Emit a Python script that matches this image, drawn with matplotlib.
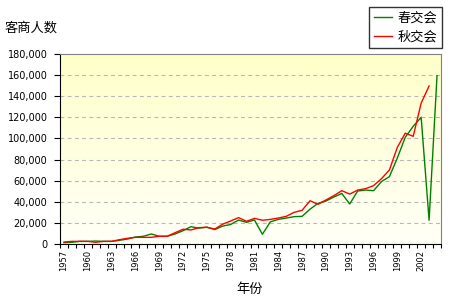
import numpy as np
import matplotlib
matplotlib.use("Agg")
from matplotlib import pyplot as plt
from matplotlib.ticker import FuncFormatter

plt.rcParams['font.family'] = ['Noto Sans CJK SC', 'DejaVu Sans']

years = list(range(1957, 2005))

# spring fair (green)
spring = [1200, 1600, 2500, 2500, 2800, 2500, 2500, 3500, 4700, 6600,
          7300, 9500, 7300, 7300, 9500, 12600, 16400, 15000, 16000, 13600,
          17000, 18500, 22700, 20500, 22800, 9200, 21000, 23300, 24600, 25900,
          26200, 33000, 38500, 40700, 44500, 47900, 37900, 50200, 51100, 50500,
          59100, 63800, 81500, 101100, 111500, 120000, 22500, 159500]

# autumn fair (red), no 2004 value
autumn = [1900, 2500, 2500, 2500, 1600, 2500, 2500, 4100, 5400, 6300,
          6300, 6300, 7300, 7300, 10700, 14000, 13300, 15500, 15800, 14200,
          18800, 21800, 25000, 21500, 24300, 22500, 23300, 24600, 26200, 30000,
          31900, 41000, 37600, 41700, 45800, 50500, 47300, 51100, 52400, 55300,
          61900, 70100, 91600, 105000, 102000, 133500, 149700]

yticks = list(range(0, 180001, 20000))
label_years = list(range(1957, 2003, 3))

fig = plt.figure(figsize=(4.5, 3), dpi=100)
ax = fig.add_axes([60/450, 56/300, 381/450, 190/300])

# background gradient like excel
grad = np.linspace(0, 1, 256).reshape(-1, 1)
top = np.array([1.0, 1.0, 0.79])
bot = np.array([1.0, 1.0, 0.97])
img = top[None, None, :] * (1 - grad[:, :, None]) + bot[None, None, :] * grad[:, :, None]
ax.imshow(img, extent=[0, 1, 0, 1], transform=ax.transAxes, aspect='auto', zorder=0)

x = np.arange(len(years))
ax.plot(x, spring, color='#008000', lw=1.0, label='春交会', zorder=3)
ax.plot(x[:len(autumn)], autumn, color='#FF0000', lw=1.0, label='秋交会', zorder=3)

ax.set_xlim(-0.5, len(years) - 0.5)
ax.set_ylim(0, 180000)
ax.set_yticks(yticks)
ax.yaxis.set_major_formatter(FuncFormatter(lambda v, p: '{:,}'.format(int(v))))
for v in yticks[1:-1]:
    ax.axhline(v, color='#b8b8b8', lw=0.8, ls=(0, (3.5, 3)), zorder=1)

ax.set_xticks([years.index(y) for y in label_years])
ax.set_xticklabels([str(y) for y in label_years], rotation=90, fontsize=6,
                   family='DejaVu Sans')
ax.set_xticks(np.arange(len(years) + 1) - 0.5, minor=True)
ax.tick_params(axis='x', which='major', length=0, pad=4)
ax.tick_params(axis='x', which='minor', length=3, direction='out', width=0.8)
ax.tick_params(axis='y', length=4, width=0.8, labelsize=7, pad=5)
for t in ax.get_yticklabels():
    t.set_family('DejaVu Sans')

for s in ['top', 'right']:
    ax.spines[s].set_color('#808080')
for s in ['left', 'bottom']:
    ax.spines[s].set_color('black')

fig.text(5/450, 1 - 28/300, '客商人数', fontsize=9.5, va='center', ha='left')
fig.text(250/450, 1 - 289/300, '年份', fontsize=9.5, va='center', ha='center')

leg = fig.legend(loc='upper right', bbox_to_anchor=(442/450, 1 - 7/300),
                 frameon=True, fancybox=False, fontsize=9.5, handlelength=1.4,
                 handletextpad=0.4, borderpad=0.35, labelspacing=0.45,
                 borderaxespad=0)
leg.get_frame().set_edgecolor('black')
leg.get_frame().set_linewidth(1.0)

fig.savefig('out.png', dpi=100, facecolor='white')
